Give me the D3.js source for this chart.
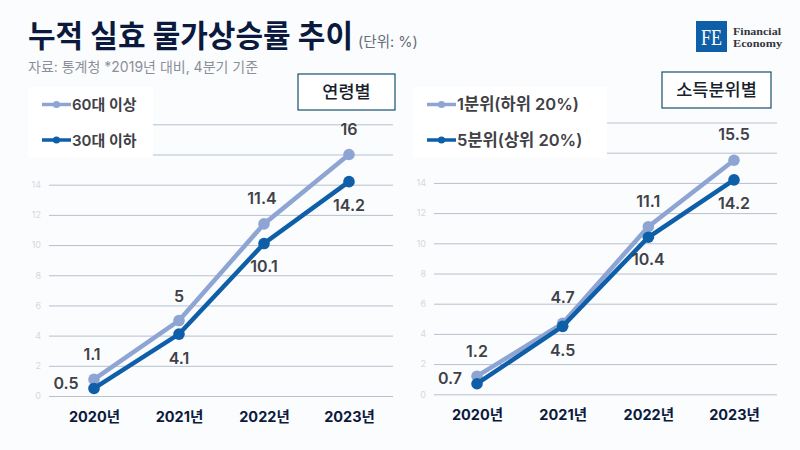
<!DOCTYPE html>
<html><head><meta charset="utf-8">
<script src="https://cdn.jsdelivr.net/npm/d3@7"></script>
<style>html,body{margin:0;padding:0;background:#fbfcfe}svg{display:block}
text{font-family:"Inter","Noto Sans CJK KR",sans-serif}</style></head><body>
<svg id="c" width="800" height="450"></svg>
<script>
const years=["2020년","2021년","2022년","2023년"];
const tickValues=[0,2,4,6,8,10,12,14,16,18];
const ageOld=[1.1,5,11.4,16];
const ageYoung=[0.5,4.1,10.1,14.2];
const incomeLow=[1.2,4.7,11.1,15.5];
const incomeHigh=[0.7,4.5,10.4,14.2];
const ageLegend=["60대 이상","30대 이하"];
const incomeLegend=["1분위(하위 20%)","5분위(상위 20%)"];
const light="#8ea5d4",dark="#0f5fa8";
const svg=d3.select("#c");
svg.append("rect").attr("width",800).attr("height",450).attr("fill","#fbfcfe");
const T=(x,y,s,size,w,fill,anchor)=>svg.append("text").attr("x",x).attr("y",y).text(s)
  .attr("font-size",size).attr("font-weight",w).attr("fill",fill).attr("text-anchor",anchor||"start");
T(28,47,"누적 실효 물가상승률 추이",31,700,"#0b1a3c").attr("textLength",325).attr("lengthAdjust","spacingAndGlyphs");
T(358,47,"(단위: %)",14.5,400,"#666c78");
T(28,72,"자료: 통계청 *2019년 대비, 4분기 기준",14,400,"#8b8f98");
// logo
svg.append("rect").attr("x",696).attr("y",21).attr("width",31).attr("height",31).attr("fill","#0f5fa8");
T(711.5,45,"FE",24,400,"#fff","middle").style("font-family","'Liberation Serif',serif").attr("textLength",21).attr("lengthAdjust","spacingAndGlyphs");
T(733,35,"Financial",10,700,"#33363d").style("font-family","'Liberation Serif',serif").attr("textLength",48).attr("lengthAdjust","spacingAndGlyphs");
T(733,46.5,"Economy",10,700,"#33363d").style("font-family","'Liberation Serif',serif").attr("textLength",49).attr("lengthAdjust","spacingAndGlyphs");

function panel(o){
  const x=d3.scalePoint().domain(years).range(o.xr);
  const y=d3.scaleLinear().domain([0,18]).range(o.yr);
  const ax=d3.axisLeft(y).tickValues(tickValues).tickSize(-(o.g1-o.g0)).tickPadding(8);
  const g=svg.append("g").attr("transform",`translate(${o.g0},0)`).call(ax);
  g.select(".domain").remove();
  g.selectAll(".tick line").attr("stroke","#b8c0cc").attr("stroke-width",1);
  g.selectAll(".tick text").attr("fill","#d5d8de").attr("font-size",9);
  const xa=svg.append("g").attr("transform",`translate(0,${o.yr[0]})`).call(d3.axisBottom(x).tickSize(0).tickPadding(15));
  xa.select(".domain").remove();
  xa.selectAll("text").attr("font-size",14.5).attr("font-weight",700).attr("fill","#0b1a3c").attr("dy","0.75em");
  const line=d3.line().x((d,i)=>x(years[i])).y(d=>y(d));
  [[o.a,light],[o.b,dark]].forEach(([vals,c])=>{
    svg.append("path").attr("d",line(vals)).attr("fill","none").attr("stroke",c).attr("stroke-width",4.5);
    svg.selectAll(null).data(vals).join("circle").attr("cx",(d,i)=>x(years[i])).attr("cy",d=>y(d)).attr("r",5.8).attr("fill",c);
  });
  const lab=(vals,off)=>vals.forEach((v,i)=>{
    const [dx,dy]=off[i];
    T(x(years[i])+dx,y(v)+dy,String(v),16,600,"#3f4147","middle");
  });
  lab(o.a,o.aOff);lab(o.b,o.bOff);
  // legend box
  svg.append("rect").attr("x",o.lx).attr("y",87).attr("width",o.lw).attr("height",71).attr("fill","#fff");
  o.legend.forEach((s,i)=>{
    const ly=104.5+i*35.5, c=i?dark:light;
    svg.append("line").attr("x1",o.lx+14).attr("x2",o.lx+43).attr("y1",ly).attr("y2",ly).attr("stroke",c).attr("stroke-width",3.5);
    svg.append("circle").attr("cx",o.lx+28.5).attr("cy",ly).attr("r",3.6).attr("fill",c);
    T(o.lx+44,ly+5.5,s,o.ls,600,"#3f4147");
  });
  // label box
  svg.append("rect").attr("x",o.bx).attr("y",o.by).attr("width",o.bw).attr("height",36).attr("fill","#fff").attr("stroke","#14506b").attr("stroke-width",1.2);
  T(o.bx+o.bw/2,o.by+24,o.title,17.5,500,"#1a1f2e","middle");
}
panel({xr:[94,349],yr:[396,124.3],g0:49,g1:393,a:ageOld,b:ageYoung,legend:ageLegend,ls:15,
  aOff:[[-2,-19],[0,-19],[-2,-20],[0,-19]],bOff:[[-28,1],[0,30],[0,28],[0,29]],
  lx:28,lw:125,bx:298,by:74,bw:97,title:"연령별"});
panel({xr:[477,734],yr:[394.3,122.5],g0:434,g1:777,a:incomeLow,b:incomeHigh,legend:incomeLegend,ls:16.5,
  aOff:[[0,-19],[0,-20],[0,-20],[0,-20]],bOff:[[-27,0],[0,30],[0,28],[0,29]],
  lx:413,lw:194,bx:662,by:72,bw:109,title:"소득분위별"});
</script></body></html>
